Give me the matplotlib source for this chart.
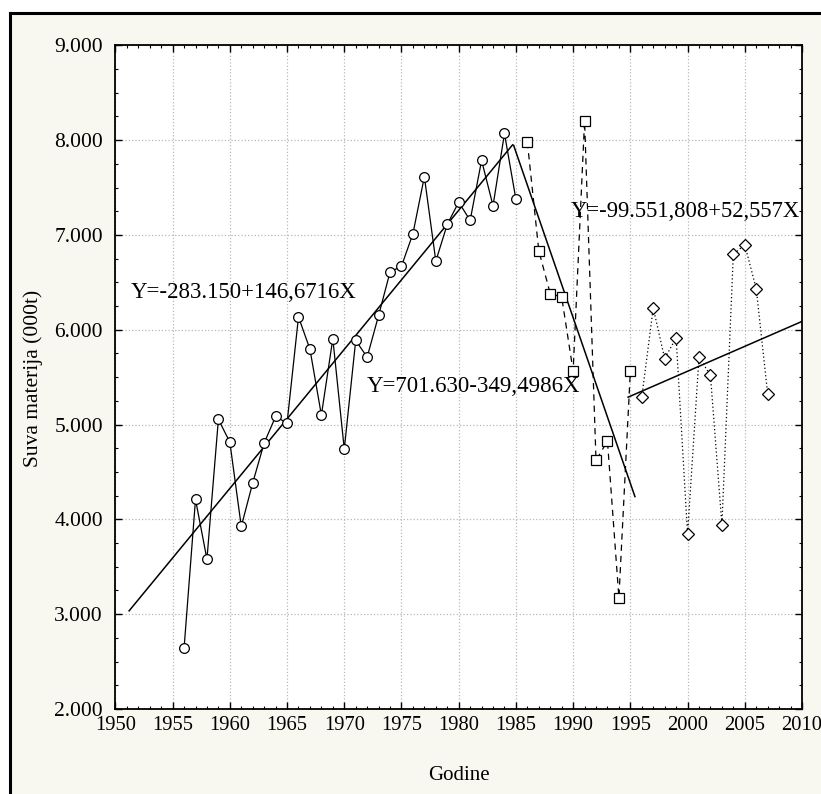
import matplotlib
matplotlib.use("Agg")
import matplotlib.pyplot as plt
from matplotlib.ticker import MultipleLocator
from matplotlib.lines import Line2D
import numpy as np

# ---- data ----
years1 = list(range(1956, 1986))
vals1 = [2640, 4210, 3580, 5055, 4815, 3925, 4385, 4805, 5085, 5015,
         6135, 5795, 5100, 5905, 4740, 5887, 5711, 6151, 6608, 6671,
         7013, 7614, 6724, 7111, 7346, 7153, 7786, 7308, 8070, 7375]

years2 = list(range(1986, 1996))
vals2 = [7980, 6833, 6381, 6344, 5563, 8204, 4622, 4826, 3174, 5563]

years3 = list(range(1996, 2008))
vals3 = [5289, 6230, 5696, 5915, 3844, 5711, 5519, 3944, 6796, 6896, 6433, 5322]

# regression equations (intercept, slope) and their year ranges
reg1 = (-283150.0, 146.6716)
reg1_range = (1951.2, 1984.7)
reg2 = (701630.0, -349.4986)
reg2_range = (1984.8, 1995.4)
reg3 = (-99551.808, 52.557)
reg3_range = (1994.8, 2010.0)

eq_labels = ["Y=-283.150+146,6716X", "Y=701.630-349,4986X", "Y=-99.551,808+52,557X"]

xticks = list(range(1950, 2011, 5))
xticklabels = [str(v) for v in xticks]
yticks = [2000, 3000, 4000, 5000, 6000, 7000, 8000, 9000]
yticklabels = ["2.000", "3.000", "4.000", "5.000", "6.000", "7.000", "8.000", "9.000"]

plt.rcParams['font.family'] = ['Liberation Serif', 'DejaVu Serif']

fig = plt.figure(figsize=(8.21, 7.94), dpi=100)
fig.patch.set_facecolor('white')

# cream panel with black frame (top and left)
bg = plt.Rectangle((10/821, 0), 1 - 10/821, 1 - 13/794, transform=fig.transFigure,
                   facecolor='#f8f8f0', edgecolor='none', zorder=-10)
fig.patches.append(bg)
fig.add_artist(Line2D([10/821, 10/821], [0, 1 - 13/794], transform=fig.transFigure,
                      color='black', lw=2.2))
fig.add_artist(Line2D([10/821, 1], [1 - 13/794, 1 - 13/794], transform=fig.transFigure,
                      color='black', lw=2.2))

ax = fig.add_axes([115.4/821, 1 - 709/794, (802 - 115.4)/821, (709 - 45.3)/794])
ax.set_facecolor('white')

ax.set_xlim(1950, 2010)
ax.set_ylim(2000, 9000)

ax.grid(True, which='major', color='#b8b8b8', linestyle=':', linewidth=0.9)
ax.set_axisbelow(True)

# series
ax.plot(years1, vals1, color='black', lw=0.9, linestyle='-', marker='o',
        markersize=7, markerfacecolor='white', markeredgecolor='black',
        markeredgewidth=0.9, zorder=3)
ax.plot(years2, vals2, color='black', lw=0.9, linestyle=(0, (5, 4)), marker='s',
        markersize=6.5, markerfacecolor='white', markeredgecolor='black',
        markeredgewidth=0.9, zorder=3)
ax.plot(years3, vals3, color='black', lw=0.9, linestyle=(0, (1, 2)), marker='D',
        markersize=6.5, markerfacecolor='white', markeredgecolor='black',
        markeredgewidth=0.9, zorder=3)

# regression lines
for (b0, b1), (xa, xb) in [(reg1, reg1_range), (reg2, reg2_range), (reg3, reg3_range)]:
    xs = np.array([xa, xb])
    ax.plot(xs, b0 + b1 * xs, color='black', lw=1.1, zorder=2)

# equation labels
ax.text(1951.3, 6390, eq_labels[0], fontsize=16.5, ha='left', va='center', zorder=4)
ax.text(1972.0, 5400, eq_labels[1], fontsize=16.5, ha='left', va='center', zorder=4)
ax.text(1989.8, 7250, eq_labels[2], fontsize=16.3, ha='left', va='center', zorder=4)

# ticks
ax.set_xticks(xticks)
ax.set_xticklabels(xticklabels)
ax.set_yticks(yticks)
ax.set_yticklabels(yticklabels)
ax.xaxis.set_minor_locator(MultipleLocator(1))
ax.yaxis.set_minor_locator(MultipleLocator(250))
ax.tick_params(which='both', direction='in', top=True, right=True, color='black')
ax.tick_params(which='major', length=5, width=1.0)
ax.tick_params(axis='y', which='major', labelsize=15.5, pad=9)
ax.tick_params(axis='x', which='major', labelsize=14.8, pad=5)
ax.tick_params(which='minor', length=2.5, width=0.8)

for s in ax.spines.values():
    s.set_linewidth(1.3)
    s.set_color('black')

ax.set_xlabel("Godine", fontsize=15, labelpad=22)
fig.text(33/821, 1 - 378/794, "Suva materija (000t)", rotation=90, fontsize=15.5,
         ha='center', va='center')

fig.savefig("out.png", dpi=100, facecolor=fig.get_facecolor())
